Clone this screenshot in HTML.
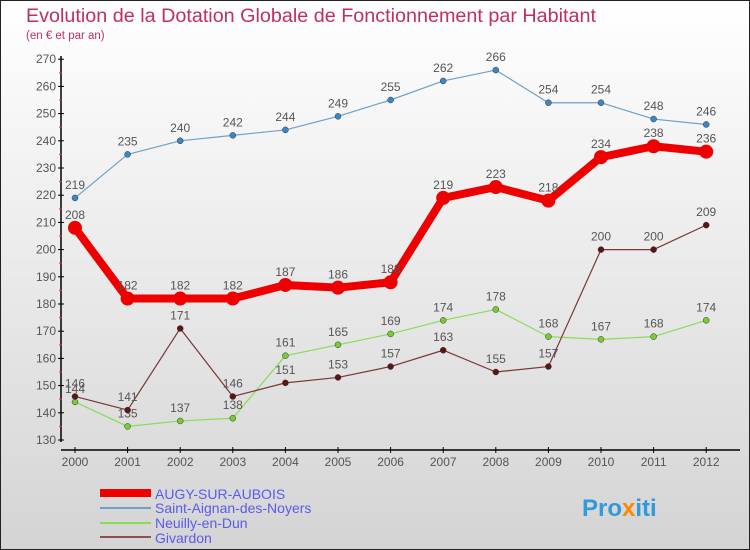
<!DOCTYPE html>
<html><head><meta charset="utf-8"><style>
body{margin:0}
#c{width:750px;height:550px;position:relative;overflow:hidden;font-family:"Liberation Sans",sans-serif}
svg text{font-family:"Liberation Sans",sans-serif}
</style></head><body>
<div id="c">
<svg id="s" width="750" height="550" xmlns="http://www.w3.org/2000/svg">
<defs><linearGradient id="bg" x1="0" y1="0" x2="0" y2="1"><stop offset="0" stop-color="#ffffff"/><stop offset="1" stop-color="#d4d4d4"/></linearGradient></defs>
<rect x="0.5" y="0.5" width="749" height="549" fill="url(#bg)" stroke="#222"/>
<text x="26" y="22" font-size="19" fill="#c0305a" textLength="570" lengthAdjust="spacingAndGlyphs">Evolution de la Dotation Globale de Fonctionnement par Habitant</text>
<text x="26" y="39" font-size="11.5" fill="#c0305a">(en € et par an)</text>
<g id="axes"></g><g id="plot"></g>
<g>
<rect x="100" y="489" width="51" height="8" fill="#e00"/>
<text x="155" y="499" font-size="14" fill="#5a5aee">AUGY-SUR-AUBOIS</text>
<line x1="100" y1="508" x2="151" y2="508" stroke="#6fa0c8" stroke-width="2"/>
<text x="155" y="513" font-size="14" fill="#5a5aee">Saint-Aignan-des-Noyers</text>
<line x1="100" y1="523" x2="151" y2="523" stroke="#88dd55" stroke-width="2"/>
<text x="155" y="528" font-size="14" fill="#5a5aee">Neuilly-en-Dun</text>
<line x1="100" y1="537" x2="151" y2="537" stroke="#8b5050" stroke-width="2"/>
<text x="155" y="543" font-size="14" fill="#5a5aee">Givardon</text>
</g>
<text x="582" y="516" font-size="24" font-weight="bold" fill="#3399dd">Pro<tspan fill="#ff8800">x</tspan>iti</text>
</svg>
</div>
<script>
const years=[2000,2001,2002,2003,2004,2005,2006,2007,2008,2009,2010,2011,2012];
const yTicks=[130,140,150,160,170,180,190,200,210,220,230,240,250,260,270];
const augy=[208,182,182,182,187,186,188,219,223,218,234,238,236];
const saint=[219,235,240,242,244,249,255,262,266,254,254,248,246];
const neuilly=[144,135,137,138,161,165,169,174,178,168,167,168,174];
const givardon=[146,141,171,146,151,153,157,163,155,157,200,200,209];
const NS="http://www.w3.org/2000/svg";
const xs=i=>75+i*52.6;
const ys=v=>440-(v-130)*27.2/10;
function mk(t,a,p){const e=document.createElementNS(NS,t);for(const k in a)e.setAttribute(k,a[k]);p.appendChild(e);return e;}
const ax=document.getElementById('axes'),pl=document.getElementById('plot');
let e=mk('line',{x1:61,y1:56,x2:61,y2:442,stroke:'#000','stroke-width':1.5},ax);


e=mk('line',{x1:61,y1:450,x2:740,y2:450,stroke:'#000','stroke-width':1.5},ax);


yTicks.forEach((v,i)=>{
 mk('line',{x1:58,y1:ys(v),x2:64,y2:ys(v),stroke:'#000'},ax);
 if(i<yTicks.length-1)mk('line',{x1:59,y1:ys(v+5),x2:62,y2:ys(v+5),stroke:'#e33'},ax);
 const t=mk('text',{x:56,y:ys(v)+4,'font-size':12,fill:'#555','text-anchor':'end'},ax);t.textContent=v;
 
 
});
years.forEach((y,i)=>{
 mk('line',{x1:xs(i),y1:447,x2:xs(i),y2:453,stroke:'#000'},ax);
 const t=mk('text',{x:xs(i),y:466,'font-size':12,fill:'#555','text-anchor':'middle'},ax);t.textContent=y;
 
 
});
function series(d,col,w,r,dot,name){
 const p=mk('polyline',{points:d.map((v,i)=>xs(i)+','+ys(v)).join(' '),fill:'none',stroke:col,'stroke-width':w,'stroke-linejoin':'round'},pl);
 
 
 d.forEach((v,i)=>{
  const c=mk('circle',{cx:xs(i),cy:ys(v),r:r,fill:dot,stroke:w>3?'none':'#333','stroke-width':0.5},pl);
  
  
  const t=mk('text',{x:xs(i),y:ys(v)-9,'font-size':12,fill:'#555','text-anchor':'middle'},pl);t.textContent=v;
  
  
 });
}
series(saint,'#6fa0c8',1.2,3,'#3a87c8','saint-aignan');
series(neuilly,'#88dd55',1.2,3,'#77cc33','neuilly');
series(givardon,'#7a3535',1.2,3,'#5a1515','givardon');
series(augy,'#ee0000',8,7,'#ee0000','augy');
</script>
</body></html>
